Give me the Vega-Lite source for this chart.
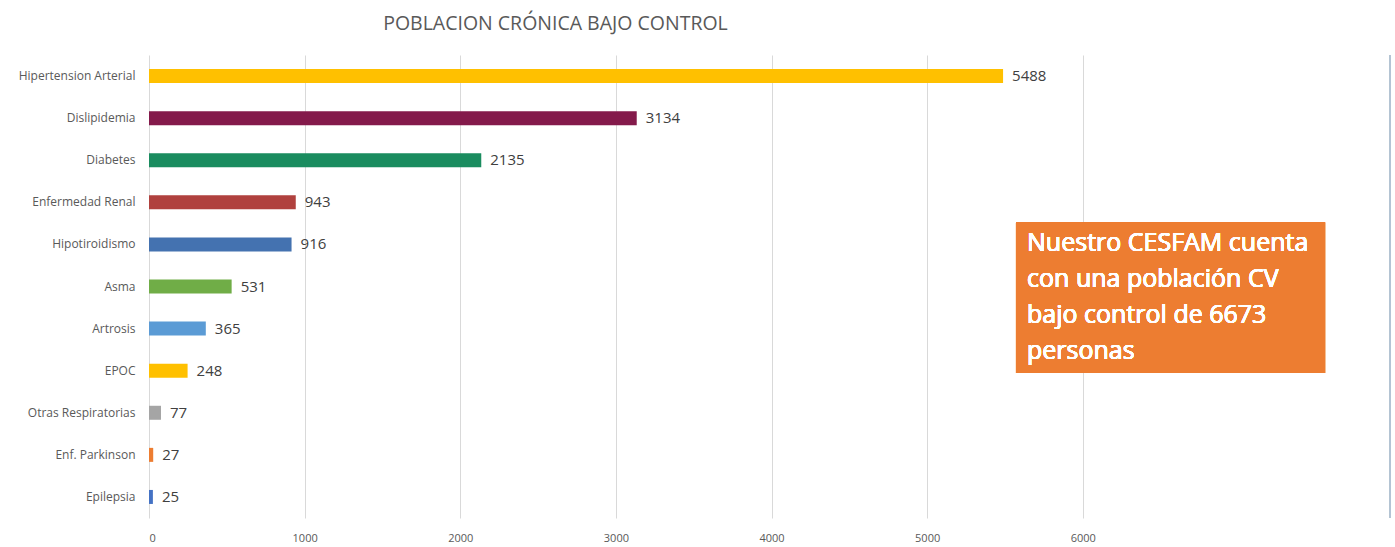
{
  "$schema": "https://vega.github.io/schema/vega-lite/v6.json",
  "autosize": {"type": "none"},
  "width": 1245,
  "height": 463,
  "padding": {"left": 149, "top": 55, "right": 1, "bottom": 29},
  "background": "white",
  "title": {
    "text": "POBLACION CRÓNICA BAJO CONTROL",
    "anchor": "start",
    "dx": 365,
    "offset": 20,
    "font": "Open Sans",
    "fontSize": 19.5,
    "fontWeight": "normal",
    "color": "#595959"
  },
  "config": {
    "view": {"stroke": null},
    "font": "Open Sans"
  },
  "data": {
    "values": [
      {"enfermedad": "Hipertension Arterial", "n": 5488},
      {"enfermedad": "Dislipidemia", "n": 3134},
      {"enfermedad": "Diabetes", "n": 2135},
      {"enfermedad": "Enfermedad Renal", "n": 943},
      {"enfermedad": "Hipotiroidismo", "n": 916},
      {"enfermedad": "Asma", "n": 531},
      {"enfermedad": "Artrosis", "n": 365},
      {"enfermedad": "EPOC", "n": 248},
      {"enfermedad": "Otras Respiratorias", "n": 77},
      {"enfermedad": "Enf. Parkinson", "n": 27},
      {"enfermedad": "Epilepsia", "n": 25}
    ]
  },
  "resolve": {"scale": {"y": "independent"}},
  "layer": [
    {
      "layer": [
        {
          "mark": {"type": "bar", "size": 14},
          "encoding": {
            "y": {
              "field": "enfermedad",
              "type": "nominal",
              "sort": null,
              "scale": {"paddingInner": 0, "paddingOuter": 0},
              "axis": {
                "title": null,
                "ticks": false,
                "domain": false,
                "labelPadding": 14,
                "labelFontSize": 12,
                "labelColor": "#595959",
                "labelFont": "Open Sans"
              }
            },
            "x": {
              "field": "n",
              "type": "quantitative",
              "scale": {"domain": [0, 8000], "nice": false},
              "axis": {
                "title": null,
                "values": [0, 1000, 2000, 3000, 4000, 5000, 6000],
                "format": "d",
                "ticks": false,
                "domain": false,
                "gridColor": "#D9D9D9",
                "gridWidth": 1,
                "labelPadding": 14,
                "labelFontSize": 11,
                "labelColor": "#595959",
                "labelFont": "Open Sans"
              }
            },
            "color": {
              "field": "enfermedad",
              "type": "nominal",
              "legend": null,
              "scale": {
                "domain": ["Hipertension Arterial", "Dislipidemia", "Diabetes", "Enfermedad Renal", "Hipotiroidismo", "Asma", "Artrosis", "EPOC", "Otras Respiratorias", "Enf. Parkinson", "Epilepsia"],
                "range": ["#FFC000", "#841A4B", "#1A8C5F", "#B0413E", "#4472B0", "#70AD47", "#5B9BD5", "#FFC000", "#A5A5A5", "#ED7D31", "#4472C4"]
              }
            }
          }
        },
        {
          "mark": {"type": "text", "align": "left", "baseline": "middle", "dx": 9, "fontSize": 15, "color": "#404040", "font": "Open Sans"},
          "encoding": {
            "y": {"field": "enfermedad", "type": "nominal", "sort": null},
            "x": {"field": "n", "type": "quantitative"},
            "text": {"field": "n", "type": "quantitative", "format": "d"}
          }
        }
      ]
    },
    {
      "layer": [
        {
          "mark": {"type": "rule", "color": "#B4C4D4", "strokeWidth": 1.5},
          "encoding": {
            "x": {"datum": 7974, "type": "quantitative"}
          }
        },
        {
          "mark": {"type": "rect", "color": "#ED7D31"},
          "encoding": {
            "x": {"datum": 5571, "type": "quantitative"},
            "x2": {"datum": 7557},
            "y": {"datum": 0.361, "type": "quantitative", "scale": {"domain": [0, 1], "reverse": true, "nice": false}, "axis": null},
            "y2": {"datum": 0.687}
          }
        },
        {
          "mark": {"type": "text", "align": "left", "baseline": "top", "color": "white", "fontSize": 25, "fontWeight": "normal", "lineHeight": 36, "font": "Open Sans"},
          "encoding": {
            "x": {"datum": 5642, "type": "quantitative"},
            "y": {"datum": 0.381, "type": "quantitative", "scale": {"domain": [0, 1], "reverse": true, "nice": false}, "axis": null},
            "text": {"value": ["Nuestro CESFAM cuenta", "con una población CV", "bajo control de 6673", "personas"]}
          }
        }
      ]
    }
  ]
}
